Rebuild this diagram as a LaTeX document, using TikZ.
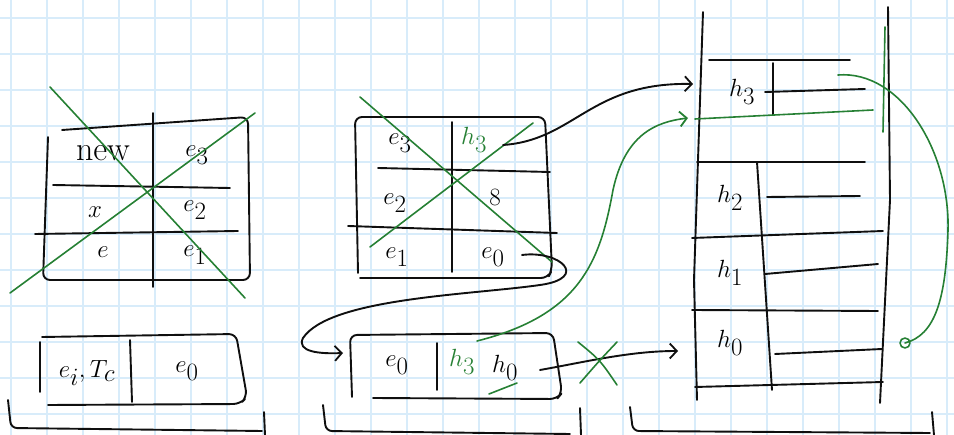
\documentclass[tikz,border=0pt]{standalone}
\usetikzlibrary{arrows.meta}
\definecolor{gridblue}{RGB}{216,236,250}
\definecolor{pen}{RGB}{15,15,15}
\definecolor{markgreen}{RGB}{38,128,52}
\tikzset{
  ink/.style={pen,line width=1.9pt,line cap=round,line join=round},
  greenink/.style={markgreen,line width=1.6pt,line cap=round,line join=round},
  cell/.style={inner sep=0pt,font=\fontsize{40}{46}\selectfont},
  smallcell/.style={cell,font=\fontsize{34}{40}\selectfont},
  tip/.style={-{Straight Barb[length=7pt,width=15pt,line width=1.8pt]}},
}

\begin{document}
\begin{tikzpicture}[x=1pt,y=-1pt]
  \useasboundingbox (0,0) rectangle (954,435);
  % squared paper
  \foreach \gx in {11,47,...,947} \draw[gridblue,line width=1.2pt] (\gx,0) -- (\gx,435);
  \foreach \gy in {18,54,...,414} \draw[gridblue,line width=1.2pt] (0,\gy) -- (954,\gy);

  % left table, crossed out
  \begin{scope}
    \draw[ink,rounded corners=7pt] (48,137) -- (43,280) -- (250,280) -- (248,117) -- (62,130);
    \draw[ink] (153,113) -- (153,287);
    \draw[ink] (53,185) -- (230,188);
    \draw[ink] (35,234) -- (238,231);
    \node[smallcell] (newA) at (103,153) {new};
    \node[cell] (eA3) at (197,155) {$e_3$};
    \node[cell] (xA) at (95,212) {$x$};
    \node[cell] (eA2) at (195,210) {$e_2$};
    \node[cell] (eA) at (103,252) {$e$};
    \node[cell] (eA1) at (195,255) {$e_1$};
    \draw[greenink] (50,87) -- (245,298);
    \draw[greenink] (10,293) -- (255,113);
  \end{scope}

  % middle table, crossed out
  \begin{scope}
    \draw[ink,rounded corners=7pt] (358,273) -- (355,117) -- (545,117) -- (552,270) -- (548,278) -- (360,278);
    \draw[ink] (452,122) -- (452,272);
    \draw[ink] (378,168) -- (550,172);
    \draw[ink] (348,226) -- (557,233);
    \node[cell] (eB3) at (400,143) {$e_3$};
    \node[cell,markgreen] (hB3) at (474,140) {$h_3$};
    \node[cell] (eB2) at (395,203) {$e_2$};
    \node[cell] (eB8) at (495,197) {$8$};
    \node[cell] (eB1) at (397,257) {$e_1$};
    \node[cell] (eB0) at (493,257) {$e_0$};
    \draw[greenink] (360,97) -- (552,262);
    \draw[greenink] (370,247) -- (533,123);
  \end{scope}

  % bottom left record
  \begin{scope}
    \draw[ink] (40,342) -- (40,392);
    \draw[ink,rounded corners=7pt] (42,337) -- (236,334) -- (247,397) -- (240,404) -- (48,405);
    \draw[ink] (130,340) -- (132,402);
    \node[smallcell] (eiTc) at (87,373) {$e_i,T_c$};
    \node[cell] (eD0) at (187,371) {$e_0$};
  \end{scope}

  % bottom middle record
  \begin{scope}
    \draw[ink,rounded corners=7pt] (352,397) -- (350,335) -- (553,333) -- (562,393) -- (557,399) -- (373,398);
    \draw[ink] (437,343) -- (437,390);
    \node[cell] (eE0) at (397,365) {$e_0$};
    \node[cell,markgreen] (hE3) at (462,362) {$h_3$};
    \node[cell] (hE0) at (505,368) {$h_0$};
    \draw[greenink] (489,394) -- (517,383);
  \end{scope}

  % hash table on the right
  \begin{scope}
    \draw[ink] (703,12) -- (698,160) -- (694,280) -- (697,400);
    \draw[ink] (888,7) -- (890,200) -- (880,403);
    \draw[greenink] (885,27) -- (883,132);
    \draw[ink] (709,60) -- (850,60);
    \draw[ink] (773,63) -- (773,115);
    \draw[ink] (765,92) -- (865,89);
    \draw[greenink] (695,119) -- (873,110);
    \draw[ink] (697,162) -- (865,162);
    \draw[ink] (757,162) -- (772,390);
    \draw[ink] (767,197) -- (860,196);
    \draw[ink] (692,238) -- (883,231);
    \draw[ink] (765,274) -- (878,264);
    \draw[ink] (692,310) -- (878,311);
    \draw[ink] (775,354) -- (882,349);
    \draw[ink] (695,387) -- (883,382);
    \node[cell] (hC3) at (742,92) {$h_3$};
    \node[cell] (hC2) at (730,198) {$h_2$};
    \node[cell] (hC1) at (730,273) {$h_1$};
    \node[cell] (hC0) at (730,343) {$h_0$};
  \end{scope}

  % brackets below
  \draw[ink,rounded corners=6pt] (8,400) -- (11,428) -- (262,431);
  \draw[ink] (264,412) -- (265,435);
  \draw[ink,rounded corners=6pt] (323,405) -- (326,431) -- (570,434);
  \draw[ink] (580,408) -- (581,435);
  \draw[ink,rounded corners=6pt] (630,407) -- (633,431) -- (930,433);
  \draw[ink] (932,412) -- (934,435);

  % pointers
  \coordinate (fromB3) at (503,145);
  \coordinate (toC3) at (693,84);
  \coordinate (fromB0) at (522,255);
  \coordinate (toE) at (343,353);
  \coordinate (fromE3) at (477,341);
  \coordinate (toCnew) at (688,118);
  \coordinate (fromE0) at (540,370);
  \coordinate (toC0) at (678,351);
  \coordinate (fromC3) at (838,75);
  \coordinate (endC0) at (905,343);
  \draw[ink,tip] (fromB3) .. controls (575,140) and (590,82) .. (toC3);
  \draw[ink,tip] (fromB0) .. controls (560,250) and (590,278) .. (540,285)
    .. controls (470,295) and (330,298) .. (303,338)
    .. controls (296,352) and (320,354) .. (toE);
  \draw[ink,tip] (fromE0) .. controls (585,362) and (630,351) .. (toC0);
  \draw[greenink,tip] (fromE3) .. controls (580,315) and (600,262) .. (613,190)
    .. controls (625,135) and (655,122) .. (toCnew);
  \draw[greenink] (fromC3) .. controls (900,70) and (950,150) .. (948,230)
    .. controls (946,300) and (935,335) .. (endC0);
  \draw[greenink] (endC0) circle[radius=5pt];
  % cross on the dropped pointer
  \draw[greenink] (578,342) .. controls (600,360) .. (617,385);
  \draw[greenink] (580,383) .. controls (600,360) .. (617,342);
\end{tikzpicture}
\end{document}
